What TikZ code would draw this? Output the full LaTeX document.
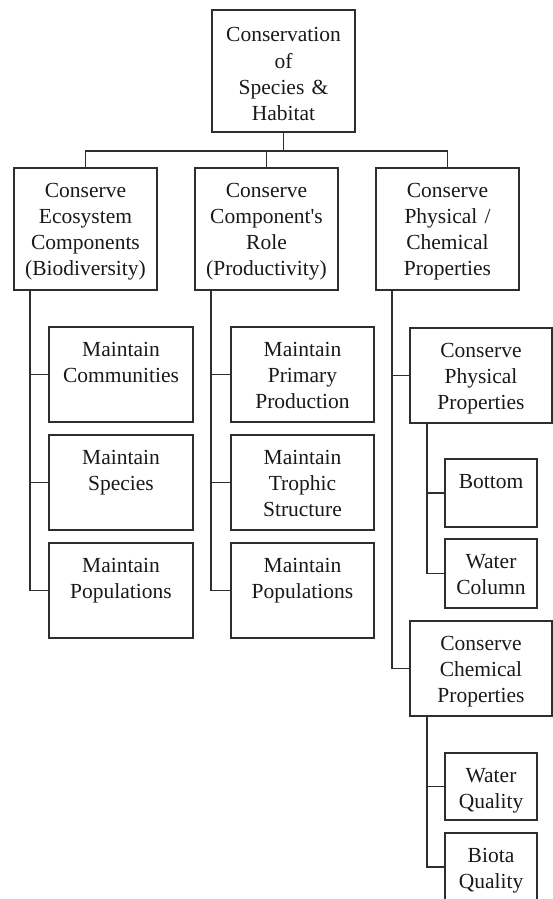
\documentclass[tikz,border=0pt]{standalone}
\usepackage{fontspec}
\setmainfont{Liberation Serif}
\usetikzlibrary{positioning}
\definecolor{inkgray}{HTML}{2E2E2E}
\tikzset{
  % rutor
  bx/.style={draw=inkgray,line width=1.7pt,inner sep=0pt,align=center,
             text width=143pt,text=black!90,
             font=\fontsize{21.5}{26}\selectfont,
             text height=29pt,text depth=#1},
  bx/.default=66pt,
  sbx/.style={bx=#1,text width=92pt},
  % linjer
  ln/.style={draw=inkgray,line width=1.7pt},
}
\begin{document}
\begin{tikzpicture}[x=1pt,y=-1pt]
\useasboundingbox (0,0) rectangle (553,899);
\clip (0,0) rectangle (553,899);
  \node[bx=90pt,text height=32pt] (root) at (283.5,71) {Conservation\\of\\Species \&\\Habitat};
  \node[bx=93pt] (eco) at (85.5,229) {Conserve\\Ecosystem\\Components\\(Biodiversity)};
  \node[bx=93pt] (role) at (266.5,229) {Conserve\\Component\textquotesingle s\\Role\\(Productivity)};
  \node[bx=93pt] (pc) at (447.5,229) {Conserve\\Physical /\\Chemical\\Properties};
  \node[bx,text width=144pt] (comm) at (121,374.5) {Maintain\\Communities};
  \node[bx,text width=144pt] (species) at (121,482.5) {Maintain\\Species};
  \node[bx,text width=144pt] (popa) at (121,590.5) {Maintain\\Populations};
  \node[bx] (prim) at (302.5,374.5) {Maintain\\Primary\\Production};
  \node[bx] (troph) at (302.5,482.5) {Maintain\\Trophic\\Structure};
  \node[bx] (popb) at (302.5,590.5) {Maintain\\Populations};
  \node[bx,text width=142pt] (phys) at (481,375.5) {Conserve\\Physical\\Properties};
  \node[bx,text width=142pt] (chem) at (481,668.5) {Conserve\\Chemical\\Properties};
  \node[sbx=39pt] (bot) at (491,493) {Bottom};
  \node[sbx=40pt] (wcol) at (491,573.5) {Water\\Column};
  \node[sbx=38pt] (wq) at (491,786.5) {Water\\Quality};
  \node[sbx=39pt] (biota) at (491,867) {Biota\\Quality};
  \draw[ln] (root.south) -- ++(0,18) coordinate (j);
  \draw[ln] (eco.north) |- (j) -| (pc.north);
  \draw[ln] (role.north) -- (role.north |- j);
  \draw[ln] ([xshift=17pt]eco.south west) coordinate (ta) |- (popa.west);
  \draw[ln] (comm.west) -- (comm.west -| ta);
  \draw[ln] (species.west) -- (species.west -| ta);
  \draw[ln] ([xshift=17pt]role.south west) coordinate (tb) |- (popb.west);
  \draw[ln] (prim.west) -- (prim.west -| tb);
  \draw[ln] (troph.west) -- (troph.west -| tb);
  \draw[ln] ([xshift=17pt]pc.south west) coordinate (tc) |- (chem.west);
  \draw[ln] (phys.west) -- (phys.west -| tc);
  \draw[ln] ([xshift=18pt]phys.south west) coordinate (td) |- (wcol.west);
  \draw[ln] (bot.west) -- (bot.west -| td);
  \draw[ln] ([xshift=18pt]chem.south west) coordinate (te) |- (biota.west);
  \draw[ln] (wq.west) -- (wq.west -| te);
\end{tikzpicture}
\end{document}
